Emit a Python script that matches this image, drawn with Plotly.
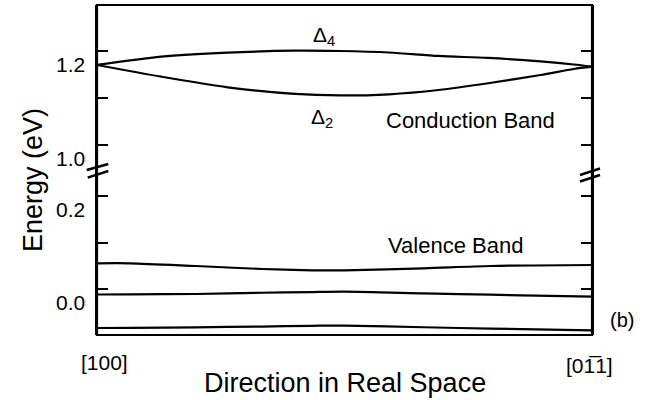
import plotly.graph_objects as go

# Band energies (eV) along the in-plane direction, [100] -> [0-11]
k_cb = [0, 0.13, 0.264, 0.40, 0.49, 0.59, 0.69, 0.79, 0.896, 0.963, 1.0]
delta4 = [1.1707, 1.1884, 1.197, 1.2013, 1.2006, 1.1974, 1.190, 1.1857, 1.1782, 1.1717, 1.167]
delta2 = [1.1707, 1.1456, 1.1229, 1.1086, 1.1054, 1.1079, 1.1171, 1.1315, 1.1492, 1.1621, 1.167]

k_vb = [0, 0.067, 0.20, 0.333, 0.434, 0.50, 0.66, 0.795, 1.0]
vb_top = [0.0556, 0.0556, 0.0498, 0.0434, 0.0406, 0.0406, 0.0449, 0.0498, 0.0519]
vb_mid = [-0.0111, -0.0107, -0.0100, -0.0073, -0.0058, -0.0051, -0.0085, -0.0115, -0.0158]
vb_bot = [-0.0827, -0.0825, -0.0812, -0.0795, -0.0780, -0.0774, -0.0810, -0.0840, -0.0876]

upper_ticks = [1.0, 1.1, 1.2]
upper_labels = {1.0: "1.0", 1.2: "1.2"}
lower_ticks = [0.0, 0.1, 0.2]
lower_labels = {0.0: "0.0", 0.2: "0.2"}
dir_labels = ["[100]", "[01\u03051]"]

W, H = 645, 400
ML, MR, MT, MB = 97, 53, 5, 65
PW, PH = W - ML - MR, H - MT - MB
SPLIT = (335 - 172) / PH  # where the axis break sits (paper fraction)


def px(x):
    return (x - ML) / PW


def py(y):
    return (H - MB - y) / PH


FONT = "Liberation Sans, Arial, sans-serif"
line = dict(color="black", width=2.2, shape="spline", smoothing=0.8)

fig = go.Figure()
for ys in (delta4, delta2):
    fig.add_trace(go.Scatter(x=k_cb, y=ys, mode="lines", line=line,
                             xaxis="x", yaxis="y2", hoverinfo="skip"))
for ys in (vb_top, vb_mid, vb_bot):
    fig.add_trace(go.Scatter(x=k_vb, y=ys, mode="lines", line=line,
                             xaxis="x", yaxis="y", hoverinfo="skip"))

yax_common = dict(showline=True, linecolor="black", linewidth=2.2, mirror="ticks",
                  ticks="inside", ticklen=11, tickwidth=2, tickcolor="black",
                  showticklabels=False, showgrid=False, zeroline=False)

fig.update_layout(
    width=W, height=H,
    margin=dict(l=ML, r=MR, t=MT, b=MB),
    paper_bgcolor="white", plot_bgcolor="white",
    showlegend=False,
    font=dict(family=FONT, color="black"),
    xaxis=dict(range=[0, 1], domain=[0, 1], anchor="y", showticklabels=False,
               ticks="", showgrid=False, zeroline=False, showline=False),
    yaxis=dict(domain=[0, SPLIT], range=[-0.0976, 0.2506], anchor="x",
               tickvals=lower_ticks, **yax_common),
    yaxis2=dict(domain=[SPLIT, 1], range=[0.9415, 1.2991], anchor="x",
                tickvals=upper_ticks, **yax_common),
)

# frame
fig.add_shape(type="rect", xref="paper", yref="paper", x0=0, x1=1, y0=0, y1=1,
              line=dict(color="black", width=2.2))

# axis break marks on both sides
for (xa, ya, xb, yb) in [(86.7, 170, 108.3, 164), (87.7, 177.7, 108.3, 171),
                         (580, 175, 600, 168.5), (580, 181.5, 600, 175)]:
    fig.add_shape(type="line", xref="paper", yref="paper",
                  x0=px(xa), y0=py(ya), x1=px(xb), y1=py(yb),
                  line=dict(color="black", width=2.4))

ann = []
for v, t in upper_labels.items():
    ann.append(dict(x=px(87), y=v, xref="paper", yref="y2", text=t, showarrow=False,
                    xanchor="right", yanchor="middle", yshift=-13.5,
                    font=dict(size=21)))
for v, t in lower_labels.items():
    ann.append(dict(x=px(87), y=v, xref="paper", yref="y", text=t, showarrow=False,
                    xanchor="right", yanchor="middle", yshift=-13.5,
                    font=dict(size=21)))

texts = [
    (px(104), py(362), dir_labels[0], 21, 0),
    (px(589), py(365), dir_labels[1], 21, 0),
    (px(345), py(383), "Direction in Real Space", 27, 0),
    (px(33), py(180), "Energy (eV)", 27, -90),
    (px(470), py(120), "Conduction Band", 22, 0),
    (px(455), py(246), "Valence Band", 22, 0),
    (px(622), py(320), "(b)", 20, 0),
    (px(324), py(36), "\u0394<sub>4</sub>", 21, 0),
    (px(322), py(118), "\u0394<sub>2</sub>", 21, 0),
]
for x, y, t, s, a in texts:
    ann.append(dict(x=x, y=y, xref="paper", yref="paper", text=t, showarrow=False,
                    xanchor="center", yanchor="middle", textangle=a,
                    font=dict(size=s)))
fig.update_layout(annotations=ann)

fig.write_html("out.html")
